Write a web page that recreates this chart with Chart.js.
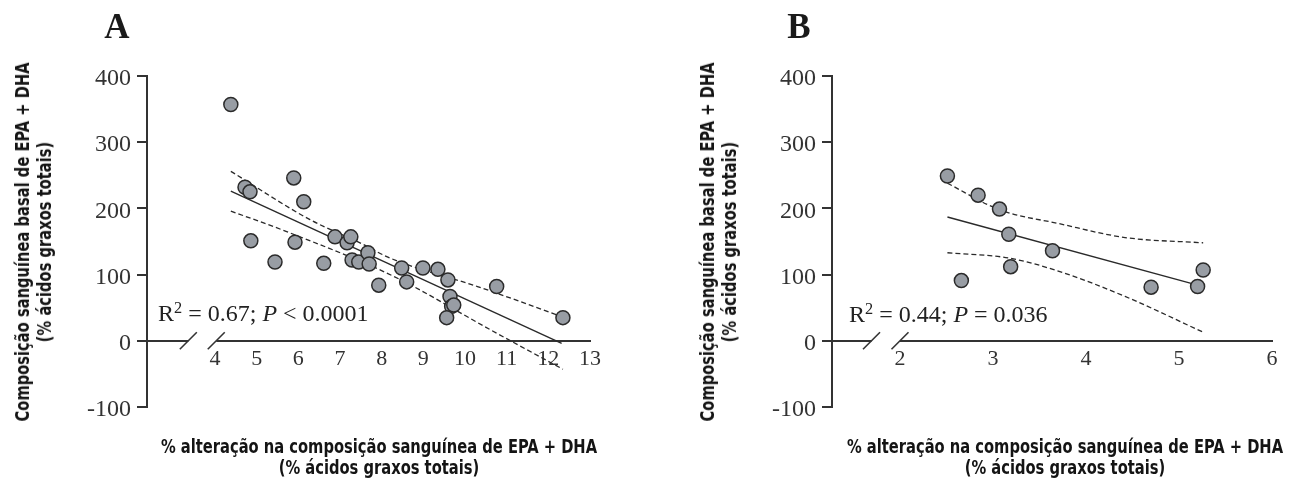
<!DOCTYPE html>
<html lang="pt-BR">
<head>
<meta charset="UTF-8">
<title>EPA + DHA: composição basal vs. alteração</title>
<script src="https://cdn.jsdelivr.net/npm/chart.js"></script>
<style>
  body { margin: 0; background: #fff; }
  #wrap { position: relative; width: 1290px; height: 479px; overflow: hidden; }
  canvas { position: absolute; top: 0; }
  #chartA { left: 0; }
  #chartB { left: 685px; }
  .letter { position: absolute; top: 9px; width: 40px; text-align: center;
    font: bold 35px "Liberation Serif", "Times New Roman", serif; line-height: 1; color: #1a1a1a; }
  .stat { position: absolute; font: 24px "Liberation Serif", "Times New Roman", serif;
    line-height: 1; color: #222; white-space: nowrap; }
  .stat sup { font-size: 0.68em; position: relative; top: -0.5em; vertical-align: baseline; }
  .xtitle, .ytitle { position: absolute; text-align: center; white-space: nowrap;
    font: bold 19px "Liberation Sans Narrow", "Arial Narrow", "DejaVu Sans Condensed", sans-serif;
    color: #141414; transform-origin: 50% 50%; }
  .xtitle { top: 436px; width: 560px; line-height: 21px; transform: scaleX(0.86); }
  .ytitle { top: 219.5px; width: 460px; height: 44px; line-height: 22px;
    transform: rotate(-90deg) scaleX(0.86); }
</style>
</head>
<body>
<div id="wrap">
  <canvas id="chartA" width="685" height="479"></canvas>
  <canvas id="chartB" width="605" height="479"></canvas>

  <div class="letter" style="left:97px">A</div>
  <div class="letter" style="left:779px">B</div>

  <div class="ytitle" style="left:-197px">Composição sanguínea basal de EPA + DHA<br>(% ácidos graxos totais)</div>
  <div class="ytitle" style="left:488px">Composição sanguínea basal de EPA + DHA<br>(% ácidos graxos totais)</div>

  <div class="stat" style="left:158px; top:301px">R<sup>2</sup> = 0.67; <i>P</i> &lt; 0.0001</div>
  <div class="stat" style="left:849px; top:302px">R<sup>2</sup> = 0.44; <i>P</i> = 0.036</div>

  <div class="xtitle" style="left:99px">% alteração na composição sanguínea de EPA + DHA<br>(% ácidos graxos totais)</div>
  <div class="xtitle" style="left:785px">% alteração na composição sanguínea de EPA + DHA<br>(% ácidos graxos totais)</div>
</div>

<script>
  // ---- painel A ----
  const xA = [4.38, 4.72, 4.84, 4.86, 5.44, 5.89, 5.92, 6.13, 6.61, 6.88, 7.17, 7.26, 7.29, 7.45,
              7.67, 7.70, 7.93, 8.48, 8.60, 8.99, 9.35, 9.59, 9.64, 9.68, 9.73, 9.56, 10.76, 12.35];
  const yA = [357, 232, 225, 151, 119, 246, 149, 210, 117, 157, 148, 157, 122, 119,
              133, 116, 84, 110, 89, 110, 108, 92, 67, 52, 54, 35, 82, 35];
  const fitXA = [4.38, 12.32];
  const fitYA = [226, -4];
  const upXA = [4.38, 6.28, 7.48, 8.2, 10.3, 12.35];
  const upYA = [256, 183, 148, 125, 82, 36];
  const loXA = [4.38, 5.8, 8.3, 10.6, 12.35];
  const loYA = [196, 163, 97, 17, -43];
  const xTicksA = [4, 5, 6, 7, 8, 9, 10, 11, 12, 13];

  // ---- painel B ----
  const xB = [2.51, 2.84, 3.07, 3.17, 2.66, 3.19, 3.64, 4.70, 5.20, 5.26];
  const yB = [249, 220, 199, 161, 91, 112, 136, 81, 82, 107];
  const fitXB = [2.51, 5.20];
  const fitYB = [187, 84];
  const upXB = [2.51, 3.07, 3.71, 4.42, 5.26];
  const upYB = [238, 198, 177, 156, 148];
  const loXB = [2.51, 3.17, 3.71, 4.42, 5.26];
  const loYB = [133, 125, 105, 67, 13];
  const xTicksB = [2, 3, 4, 5, 6];

  const yTicks = [-100, 0, 100, 200, 300, 400];

  const serif = '"Liberation Serif", "Times New Roman", serif';
  const ink = '#333';

  const pts = (xs, ys) => xs.map((x, i) => ({ x: x, y: ys[i] }));

  // quebra do eixo x (duas barras) desenhada sobre a linha do zero
  const axisBreak = {
    id: 'axisBreak',
    afterDatasetsDraw(chart, args, opts) {
      const { ctx, scales: { x, y } } = chart;
      const y0 = y.getPixelForValue(0);
      const a = x.getPixelForValue(opts.at[0]);
      const b = x.getPixelForValue(opts.at[1]);
      ctx.save();
      ctx.fillStyle = '#fff';
      ctx.fillRect(a, y0 - 3, b - a, 6);
      ctx.strokeStyle = ink;
      ctx.lineWidth = 1.6;
      [a, b].forEach(px => {
        ctx.beginPath();
        ctx.moveTo(px - 8.5, y0 + 8.5);
        ctx.lineTo(px + 8.5, y0 - 8.5);
        ctx.stroke();
      });
      ctx.restore();
    }
  };

  function makeChart(id, d) {
    const lineStyle = { type: 'line', showLine: true, pointRadius: 0, borderColor: '#2a2a2a', fill: false };
    return new Chart(document.getElementById(id), {
      type: 'scatter',
      data: {
        datasets: [
          { label: 'dados', data: pts(d.x, d.y), pointRadius: 7, pointHoverRadius: 7,
            backgroundColor: '#989da4', borderColor: '#2b2b2b', borderWidth: 1.5 },
          Object.assign({ label: 'regressão', data: pts(d.fitX, d.fitY), borderWidth: 1.4 }, lineStyle),
          Object.assign({ label: 'IC sup', data: pts(d.upX, d.upY), borderWidth: 1.3, borderDash: [5, 3],
            tension: 0.4, cubicInterpolationMode: 'monotone' }, lineStyle),
          Object.assign({ label: 'IC inf', data: pts(d.loX, d.loY), borderWidth: 1.3, borderDash: [5, 3],
            tension: 0.4, cubicInterpolationMode: 'monotone' }, lineStyle)
        ]
      },
      options: {
        responsive: false,
        animation: false,
        events: [],
        layout: { padding: { left: 0, right: d.padRight, top: 76, bottom: 72 } },
        plugins: {
          legend: { display: false },
          tooltip: { enabled: false },
          axisBreak: { at: d.breakAt }
        },
        scales: {
          x: {
            type: 'linear',
            position: { y: 0 },
            min: d.xMin,
            max: d.xMax,
            afterBuildTicks: s => { s.ticks = d.xTicks.map(v => ({ value: v })); },
            grid: { display: false, drawTicks: false },
            border: { display: true, color: ink, width: 2 },
            ticks: { padding: 5, color: ink, font: { family: serif, size: 22 }, callback: v => String(v) }
          },
          y: {
            type: 'linear',
            min: -100,
            max: 400,
            afterBuildTicks: s => { s.ticks = yTicks.map(v => ({ value: v })); },
            afterFit: s => { s.width = 147; },
            grid: { drawOnChartArea: false, drawTicks: true, tickLength: 10, color: ink, lineWidth: 2 },
            border: { display: true, color: ink, width: 2 },
            ticks: { padding: 6, labelOffset: 3, color: ink, font: { family: serif, size: 24 },
              callback: v => String(v) }
          }
        }
      },
      plugins: [axisBreak]
    });
  }

  makeChart('chartA', {
    x: xA, y: yA, fitX: fitXA, fitY: fitYA, upX: upXA, upY: upYA, loX: loXA, loY: loYA,
    xTicks: xTicksA, xMin: 2.368, xMax: 13, padRight: 95, breakAt: [3.36, 4.03]
  });

  makeChart('chartB', {
    x: xB, y: yB, fitX: fitXB, fitY: fitYB, upX: upXB, upY: upYB, loX: loXB, loY: loYB,
    xTicks: xTicksB, xMin: 1.269, xMax: 6, padRight: 18, breakAt: [1.694, 2.0]
  });
</script>
</body>
</html>
